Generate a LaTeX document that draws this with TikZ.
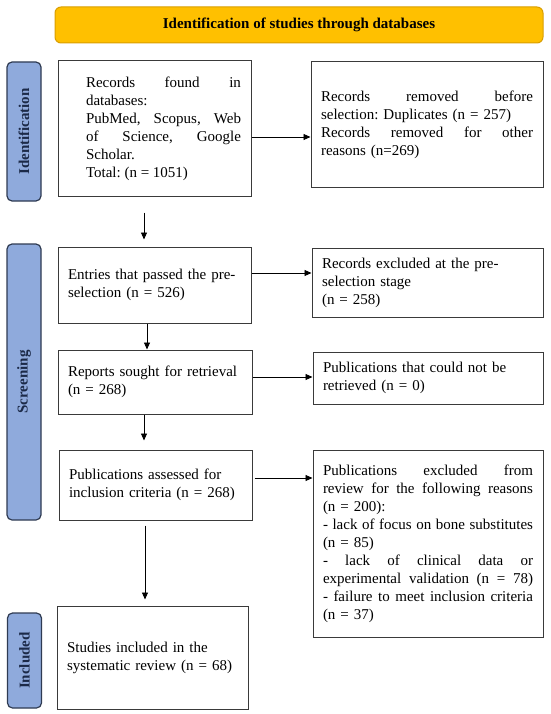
\documentclass[tikz,border=0pt]{standalone}
\usepackage{fontspec}
\usepackage{graphicx}
\setmainfont{Liberation Serif}
\usetikzlibrary{arrows.meta,calc}
\definecolor{hdrfill}{HTML}{FFC000}
\definecolor{hdrline}{HTML}{D99E00}
\definecolor{sidefill}{HTML}{8FAADC}
\definecolor{sideline}{HTML}{2F3B52}
\definecolor{sidetext}{HTML}{1C2A48}
\definecolor{boxline}{HTML}{3A3A3A}
\newcommand{\jl}[1]{\makebox[\hsize][s]{\spaceskip=0pt\xspaceskip=0pt #1}}
\frenchspacing
\tikzset{
  box/.style={draw=boxline, line width=1pt, inner xsep=10pt, inner ysep=0pt,
    align=left, font=\fontsize{15}{18}\selectfont\frenchspacing},
  side/.style={draw=sideline, fill=sidefill, line width=1.2pt, rounded corners=5pt,
    minimum width=34pt, inner sep=0pt, text=sidetext, font=\bfseries\fontsize{15}{18}\selectfont},
  arr/.style={-{Triangle[length=7pt,width=6pt]}, line width=0.9pt, black}
}
\begin{document}
\begin{tikzpicture}[x=1pt,y=-1pt]
\useasboundingbox (0,0) rectangle (550,714);
% header
\node[draw=hdrline, fill=hdrfill, line width=1pt, rounded corners=6pt, minimum width=488pt,
  minimum height=36pt, font=\bfseries\fontsize{15}{18}\selectfont] (H) at (299,25)
  {Identification of studies through databases};
% sidebars
\node[side, minimum height=139pt] (S1) at (24,131.5) {\rotatebox{90}{Identification}};
\node[side, minimum height=276pt] (S2) at (24,382) {\rotatebox{90}{Screening}};
\node[side, minimum height=95pt] (S3) at (24.5,660.5) {\rotatebox{90}{Included}};
% boxes
\node[draw=boxline, line width=1pt, inner sep=0pt, minimum width=193pt, minimum height=135pt,
  font=\fontsize{15}{18}\selectfont\frenchspacing] (B1) at (154.5,128.5)
  {\hspace*{18pt}\parbox{155pt}{\raggedright\frenchspacing
   \jl{Records found in}\\
   databases:\\
   \jl{PubMed, Scopus, Web}\\
   \jl{of Science, Google}\\
   Scholar.\\
   Total: (n = 1051)}};
\node[box, minimum width=232pt, minimum height=125pt, text width=212pt] (B2) at (427,124.5)
  {\jl{Records removed before}\\
   selection: Duplicates (n = 257)\\
   \jl{Records removed for other}\\
   reasons (n=269)};
\node[box, minimum width=193pt, minimum height=76pt, text width=173pt] (B3) at (154.5,285)
  {Entries that passed the pre-\\selection (n = 526)};
\node[box, minimum width=231pt, minimum height=69pt, text width=211pt] (B4) at (427.5,282.5)
  {Records excluded at the pre-\\selection stage\\(n = 258)};
\node[box, minimum width=194pt, minimum height=64pt, text width=174pt] (B5) at (155,382)
  {Reports sought for retrieval\\(n = 268)};
\node[box, minimum width=230pt, minimum height=52pt, text width=210pt] (B6) at (428,378)
  {Publications that could not be\\retrieved (n = 0)};
\node[box, minimum width=193pt, minimum height=70pt, text width=173pt] (B7) at (155.5,485)
  {Publications assessed for\\inclusion criteria (n = 268)};
\node[box, minimum width=230pt, minimum height=187pt, text width=210pt] (B8) at (428,543.5)
  {\jl{Publications excluded from}\\
   \jl{review for the following reasons}\\
   (n = 200):\\
   \jl{- lack of focus on bone substitutes}\\
   (n = 85)\\
   \jl{- lack of clinical data or}\\
   \jl{experimental validation (n = 78)}\\
   \jl{- failure to meet inclusion criteria}\\
   (n = 37)};
\node[box, minimum width=191pt, minimum height=103pt, text width=171pt] (B9) at (152.5,657.5)
  {Studies included in the\\systematic review (n = 68)};
% arrows
\draw[arr] ([yshift=-8.5pt]B1.east) -- ([yshift=-8.5pt]B1.east -| B2.west);
\draw[arr] ([xshift=-10.5pt,yshift=-16pt]B1.south) -- ([xshift=-10.5pt,yshift=7pt]B3.north);
\draw[arr] ([yshift=12pt]B3.east) -- ([yshift=12pt]B3.east -| B4.west);
\draw[arr] ([xshift=-7.5pt]B3.south) -- ([xshift=-7.5pt]B3.south |- B5.north);
\draw[arr] ([yshift=5pt]B5.east) -- ([yshift=5pt]B5.east -| B6.west);
\draw[arr] ([xshift=-11pt]B5.south) -- ([xshift=-11pt,yshift=9pt]B5.south |- B7.north);
\draw[arr] ([xshift=2pt,yshift=7pt]B7.east) -- ([yshift=7pt]B7.east -| B8.west);
\draw[arr] ([xshift=-10.5pt,yshift=-5pt]B7.south) -- ([xshift=-10.5pt,yshift=6pt]B7.south |- B9.north);
\end{tikzpicture}
\end{document}
